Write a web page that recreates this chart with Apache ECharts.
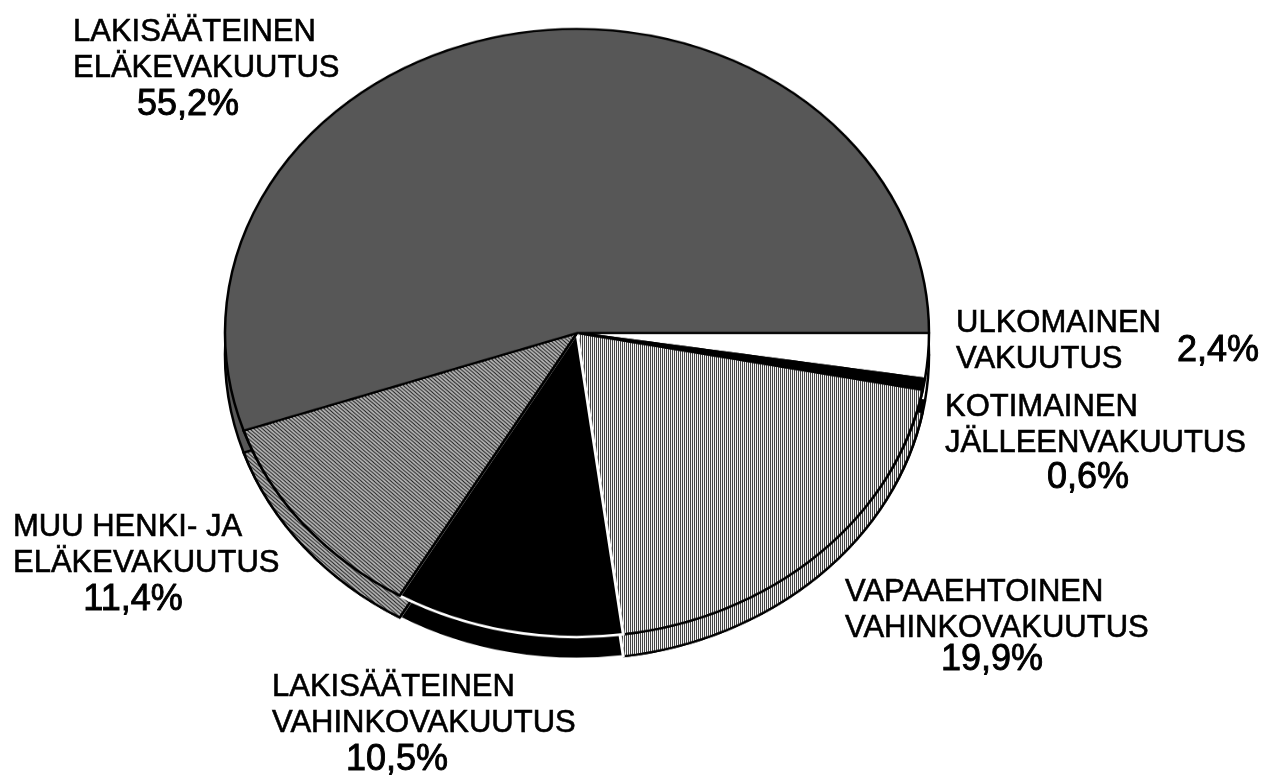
<!DOCTYPE html>
<html>
<head>
<meta charset="utf-8">
<title>Vakuutusmaksutulo</title>
<script src="https://cdn.jsdelivr.net/npm/echarts@6/dist/echarts.min.js"></script>
<style>
  html, body { margin: 0; padding: 0; background: #fff; }
  #wrap { position: relative; width: 1271px; height: 779px; overflow: hidden; }
  /* the pie is drawn round and squashed vertically to get the tilted look */
  #pie { position: absolute; left: 0; top: 0; width: 1271px; height: 902px;
         transform: scaleY(0.8636); transform-origin: 0 0; }
  #labels { position: absolute; left: 0; top: 0; width: 1271px; height: 779px; }
</style>
</head>
<body>
<div id="wrap">
  <div id="pie"></div>
  <div id="labels"></div>
</div>
<script>
// slices, clockwise from 3 o'clock
const sliceNames = [
  ['ULKOMAINEN', 'VAKUUTUS'],
  ['KOTIMAINEN', 'JÄLLEENVAKUUTUS'],
  ['VAPAAEHTOINEN', 'VAHINKOVAKUUTUS'],
  ['LAKISÄÄTEINEN', 'VAHINKOVAKUUTUS'],
  ['MUU HENKI- JA', 'ELÄKEVAKUUTUS'],
  ['LAKISÄÄTEINEN', 'ELÄKEVAKUUTUS']
]
const shares = [2.4, 0.6, 19.9, 10.5, 11.4, 55.2]

const fills = ['#ffffff', '#000000', '#f4f4f4', '#000000', '#b0b0b0', '#575757']
const edges = ['#000', '#000', '#000', '#fff', '#000', '#000']
// hatching like the printed original
const hatches = [
  null,
  null,
  { symbol: 'rect', color: '#444', dashArrayX: [1, 1], dashArrayY: [1, 0] },
  null,
  { symbol: 'rect', color: '#222', dashArrayX: [1, 0], dashArrayY: [1, 2], rotation: Math.PI / 4 },
  null
]

const SCALE = 0.8636
const CX = 577, CY = 333, R = 352, DEPTH = 22

function sliceData() {
  return shares.map((v, i) => {
    const style = {
      color: fills[i],
      borderColor: edges[i],
      borderWidth: i === 3 ? 3 : 2.5
    }
    if (hatches[i]) style.decal = hatches[i]
    return { name: sliceNames[i].join(' '), value: v, itemStyle: style }
  })
}

function pieSeries(cy, z) {
  return {
    type: 'pie',
    z: z,
    silent: true,
    center: [CX, cy / SCALE],
    radius: R,
    startAngle: 0,
    clockwise: true,
    label: { show: false },
    labelLine: { show: false },
    emphasis: { disabled: true },
    data: sliceData()
  }
}

const pieChart = echarts.init(document.getElementById('pie'))
pieChart.setOption({
  animation: false,
  backgroundColor: '#fff',
  series: [
    pieSeries(CY + DEPTH, 1), // side of the disc
    pieSeries(CY, 2)          // top face
  ]
})

// label places: left x of name lines, centre y of first line, centre x/y of percent
const labelPos = [
  { x: 956, y: 323, px: 1218, py: 351 },
  { x: 945, y: 407, px: 1088, py: 478 },
  { x: 845, y: 592, px: 992, py: 660 },
  { x: 272, y: 687, px: 397, py: 760 },
  { x: 13, y: 527, px: 133, py: 600 },
  { x: 73, y: 32, px: 188, py: 105 }
]

const FONT = '"Liberation Sans", Arial, sans-serif'
const texts = []
sliceNames.forEach((lines, i) => {
  const p = labelPos[i]
  lines.forEach((line, j) => {
    texts.push({
      type: 'text',
      silent: true,
      style: {
        text: line, x: p.x, y: p.y + j * 36,
        fill: '#000', stroke: '#000', lineWidth: 0.6,
        fontSize: 31, fontFamily: FONT,
        textAlign: 'left', textVerticalAlign: 'middle'
      }
    })
  })
  texts.push({
    type: 'text',
    silent: true,
    style: {
      text: shares[i].toFixed(1).replace('.', ',') + '%',
      x: p.px, y: p.py,
      fill: '#000', stroke: '#000', lineWidth: 0.9,
      fontSize: 36, fontFamily: FONT,
      textAlign: 'center', textVerticalAlign: 'middle'
    }
  })
})

const labelChart = echarts.init(document.getElementById('labels'))
labelChart.setOption({
  animation: false,
  graphic: texts
})
</script>
</body>
</html>
